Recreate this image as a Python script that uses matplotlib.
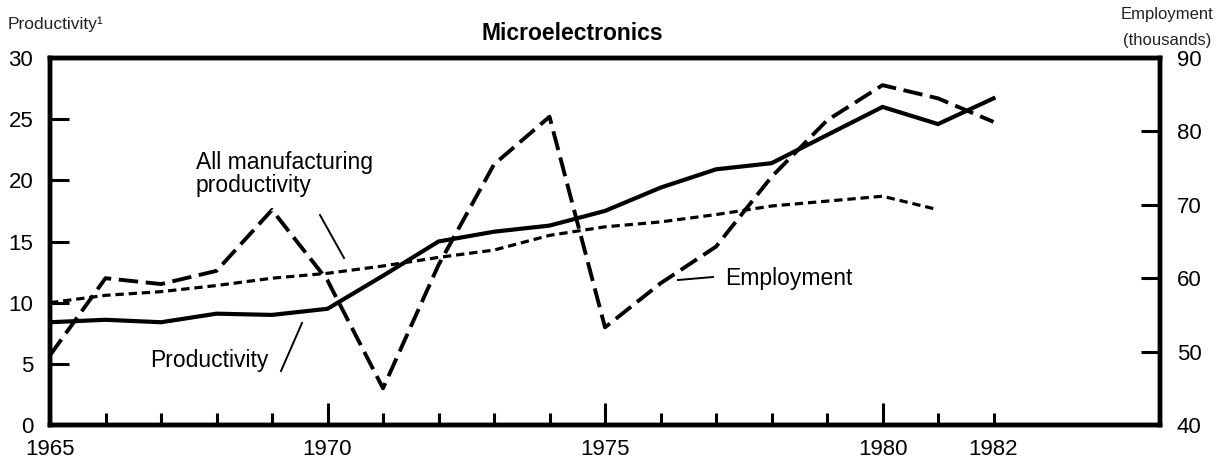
import matplotlib
matplotlib.use("Agg")
import matplotlib.pyplot as plt
from matplotlib.ticker import FixedLocator, FixedFormatter

plt.rcParams['font.family'] = ['Liberation Sans', 'DejaVu Sans']
plt.rcParams['lines.scale_dashes'] = False

# ---- data ----
years = [1965, 1966, 1967, 1968, 1969, 1970, 1971, 1972, 1973, 1974,
         1975, 1976, 1977, 1978, 1979, 1980, 1981, 1982]
productivity = [8.4, 8.6, 8.4, 9.1, 9.0, 9.5, 12.2, 15.0, 15.8, 16.3,
                17.5, 19.4, 20.9, 21.4, 23.7, 26.0, 24.6, 26.7]
employment = [49.5, 60.0, 59.2, 61.0, 69.3, 59.7, 45.0, 61.8, 75.5, 82.0,
              53.3, 59.3, 64.3, 73.8, 81.5, 86.3, 84.5, 81.3]
mfg_years = [1965, 1966, 1967, 1968, 1969, 1970, 1971, 1972, 1973,
             1974, 1975, 1976, 1977, 1978, 1979, 1980, 1981]
all_mfg_productivity = [10.0, 10.6, 10.9, 11.4, 12.0, 12.4, 13.0, 13.7, 14.3,
                        15.5, 16.2, 16.6, 17.2, 17.9, 18.3, 18.7, 17.6]

labeled_years = [1965, 1970, 1975, 1980, 1982]
left_ticks = [0, 5, 10, 15, 20, 25, 30]
right_ticks = [40, 50, 60, 70, 80, 90]

W, H = 1218, 471
fig = plt.figure(figsize=(W / 100, H / 100), dpi=100)
ax = fig.add_axes([50 / W, 1 - 425 / H, (1160 - 50) / W, (425 - 58) / H])
ax2 = ax.twinx()

ax.set_xlim(1965, 1985)
ax.set_ylim(0, 30)
ax2.set_ylim(40, 90)

ax.plot(years, productivity, color='black', lw=3.0, solid_joinstyle='miter', zorder=3)
ax.plot(mfg_years, all_mfg_productivity, color='black', lw=2.3,
        dashes=(6, 3.5), zorder=3)
ax2.plot(years, employment, color='black', lw=2.8, dashes=(14, 5.5), zorder=3)

for a in (ax, ax2):
    for s in a.spines.values():
        s.set_linewidth(3.2)
        s.set_color('black')

# x ticks: long ticks at 1970/1975/1980, short ticks at the other years
major_x = [1970, 1975, 1980]
minor_x = [y for y in years if y not in major_x]
ax.xaxis.set_major_locator(FixedLocator(major_x))
ax.xaxis.set_major_formatter(FixedFormatter([str(y) for y in major_x]))
ax.xaxis.set_minor_locator(FixedLocator(minor_x))
ax.xaxis.set_minor_formatter(FixedFormatter([str(y) if y in labeled_years else '' for y in minor_x]))
ax.tick_params(axis='x', which='major', direction='in', length=16, width=2.2,
               labelsize=16, pad=10)
ax.tick_params(axis='x', which='minor', direction='in', length=9, width=2.2,
               labelsize=16, pad=10)

ax.set_yticks(left_ticks)
ax.tick_params(axis='y', direction='in', length=14, width=2.2, labelsize=16, pad=12)
ax2.set_yticks(right_ticks)
ax2.tick_params(axis='y', direction='in', length=14, width=2.2, labelsize=16, pad=12)
ax2.tick_params(axis='x', which='both', length=0)

def ft(x, y, s, **kw):
    fig.text(x / W, 1 - y / H, s, **kw)

ft(8, 24, 'Productivity¹', fontsize=12.5, color='#222222', va='center', ha='left')
ft(572, 33, 'Microelectronics', fontsize=16.5, fontweight='bold', va='center', ha='center')
ft(1213, 14, 'Employment', fontsize=12, color='#222222', va='center', ha='right')
ft(1211, 41, '(thousands)', fontsize=12, color='#222222', va='center', ha='right')

ft(196, 174, 'All manufacturing\nproductivity', fontsize=16.5, va='center', ha='left',
   linespacing=1.05)
ft(150, 361, 'Productivity', fontsize=16.5, va='center', ha='left')
ft(725, 278, 'Employment', fontsize=16.5, va='center', ha='left')

def leader(x0, y0, x1, y1):
    fig.add_artist(plt.Line2D([x0 / W, x1 / W], [1 - y0 / H, 1 - y1 / H],
                              color='black', lw=1.4, transform=fig.transFigure))

leader(320, 215, 344, 258)
leader(281, 371, 302, 323)
leader(678, 280, 713, 277)

fig.savefig('out.png', dpi=100)
